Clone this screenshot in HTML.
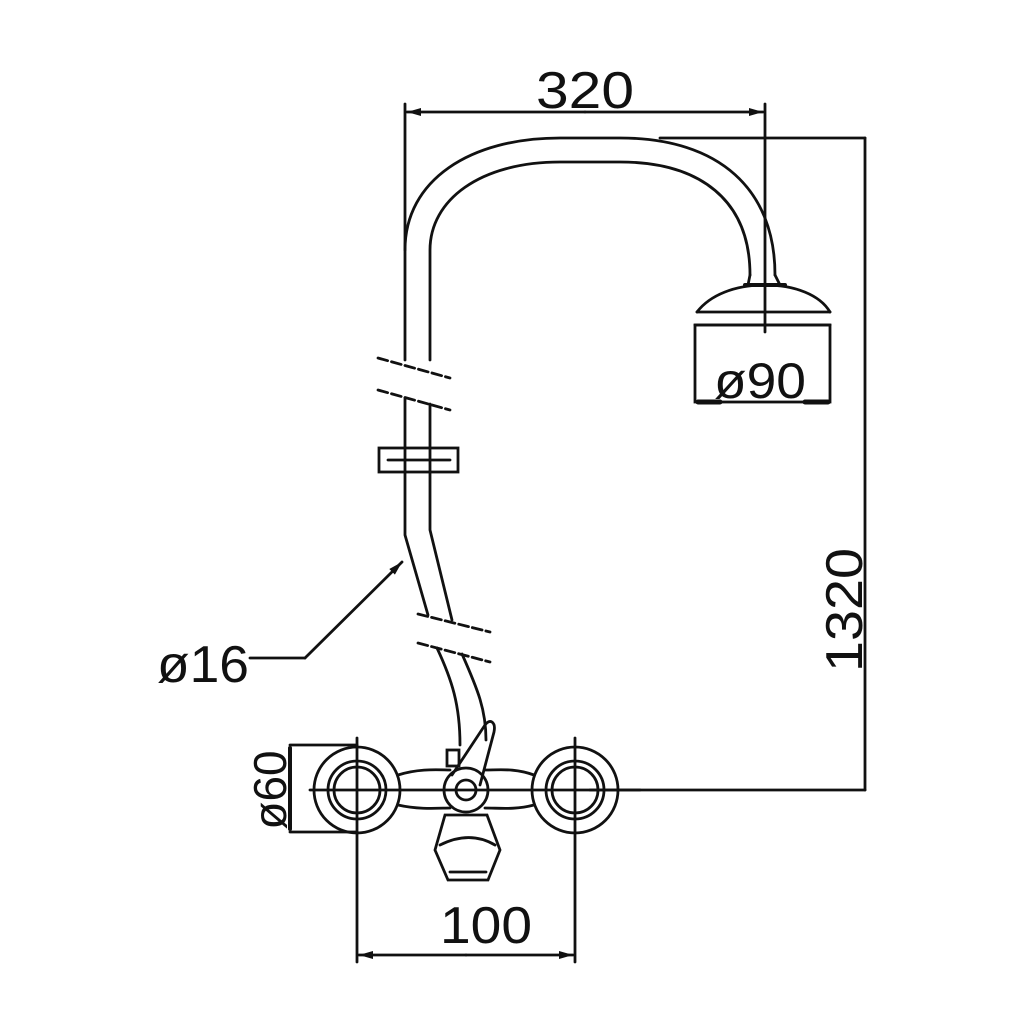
<!DOCTYPE html>
<html><head><style>html,body{margin:0;padding:0;background:#fff}svg{display:block}</style></head>
<body>
<svg width="1024" height="1024" viewBox="0 0 1024 1024" xmlns="http://www.w3.org/2000/svg">
<rect width="1024" height="1024" fill="#fff"/>
<defs>
<marker id="ar" markerWidth="14" markerHeight="8" refX="14" refY="4" orient="auto" markerUnits="userSpaceOnUse"><path d="M0,0 L14,4 L0,8 Z" fill="#111"/></marker>
</defs>
<g stroke="#111" stroke-width="2.8" fill="none" stroke-linecap="round">
<line x1="405" y1="104" x2="405" y2="250"/>
<line x1="765" y1="104" x2="765" y2="332"/>
<line x1="585" y1="112" x2="407" y2="112" marker-end="url(#ar)"/>
<line x1="585" y1="112" x2="763" y2="112" marker-end="url(#ar)"/>
<line x1="660" y1="138" x2="865" y2="138"/>
<line x1="865" y1="138" x2="865" y2="790"/>
<line x1="590" y1="790" x2="865" y2="790"/>
<path d="M405,360 L405,250 C405,180 470,138 560,138 L620,138 C720,138 775,190 775,275"/>
<path d="M430,360 L430,250 C430,200 480,162 560,162 L620,162 C700,162 750,200 750,275"/>
<path d="M378,358 L450,378" stroke-dasharray="10,4"/>
<path d="M378,390 L450,410" stroke-dasharray="10,4"/>
<path d="M405,398 L405,535 L428,615"/>
<path d="M430,404 L430,530 L452,620"/>
<rect x="379" y="448" width="79" height="24"/>
<line x1="388" y1="460" x2="450" y2="460"/>
<path d="M418,614 L490,632" stroke-dasharray="10,4"/>
<path d="M418,643 L490,662" stroke-dasharray="10,4"/>
<path d="M437,648 C452,680 460,705 460,745"/>
<path d="M462,654 C478,690 486,710 486,740"/>
<path d="M750,275 L748,285 M775,275 L780,285"/>
<path d="M697,312 C710,295 735,285 765,285 C795,285 820,295 830,312"/>
<line x1="745" y1="285" x2="785" y2="285" stroke-width="4"/>
<line x1="697" y1="312" x2="830" y2="312"/>
<line x1="695" y1="325" x2="830" y2="325"/>
<rect x="695" y="325" width="135" height="77"/>
<line x1="698" y1="402" x2="720" y2="402" stroke-width="5"/>
<line x1="805" y1="402" x2="828" y2="402" stroke-width="5"/>
<line x1="250" y1="658" x2="305" y2="658"/>
<line x1="305" y1="658" x2="402" y2="562" marker-end="url(#ar)"/>
<circle cx="357" cy="790" r="43"/>
<circle cx="357" cy="790" r="29"/>
<circle cx="357" cy="790" r="23"/>
<circle cx="575" cy="790" r="43"/>
<circle cx="575" cy="790" r="29"/>
<circle cx="575" cy="790" r="23"/>
<path d="M398,775 C420,768 440,770 450,770 M398,805 C420,810 440,808 450,808"/>
<path d="M534,775 C515,768 500,770 485,770 M534,805 C515,810 500,808 485,808"/>
<line x1="310" y1="790" x2="640" y2="790"/>
<circle cx="466" cy="790" r="22"/>
<circle cx="466" cy="790" r="10"/>
<path d="M452,775 L485,725 C490,718 496,722 494,732 L480,785"/>
<rect x="447" y="750" width="12" height="16"/>
<path d="M445,815 L487,815 L500,850 L488,880 L448,880 L435,850 Z"/>
<path d="M440,845 C460,835 478,835 495,845"/>
<line x1="450" y1="872" x2="486" y2="872"/>
<line x1="290" y1="745" x2="357" y2="745"/>
<line x1="290" y1="832" x2="357" y2="832"/>
<line x1="290" y1="748" x2="290" y2="829" stroke-width="4"/>
<line x1="357" y1="738" x2="357" y2="962"/>
<line x1="575" y1="738" x2="575" y2="962"/>
<line x1="466" y1="955" x2="359" y2="955" marker-end="url(#ar)"/>
<line x1="466" y1="955" x2="573" y2="955" marker-end="url(#ar)"/>
</g>
<g font-family="Liberation Sans, sans-serif" fill="#111" font-size="52">
<text x="585" y="108" text-anchor="middle" textLength="98" lengthAdjust="spacingAndGlyphs">320</text>
<text x="760" y="398" text-anchor="middle" font-size="50" textLength="92" lengthAdjust="spacingAndGlyphs">ø90</text>
<text x="203" y="682" text-anchor="middle" textLength="92" lengthAdjust="spacingAndGlyphs">ø16</text>
<text x="486" y="943" text-anchor="middle" textLength="92" lengthAdjust="spacingAndGlyphs">100</text>
<text transform="translate(862,610) rotate(-90)" text-anchor="middle" textLength="124" lengthAdjust="spacingAndGlyphs">1320</text>
<text transform="translate(286,790) rotate(-90)" text-anchor="middle" font-size="46">ø60</text>
</g>
</svg>
</body></html>
